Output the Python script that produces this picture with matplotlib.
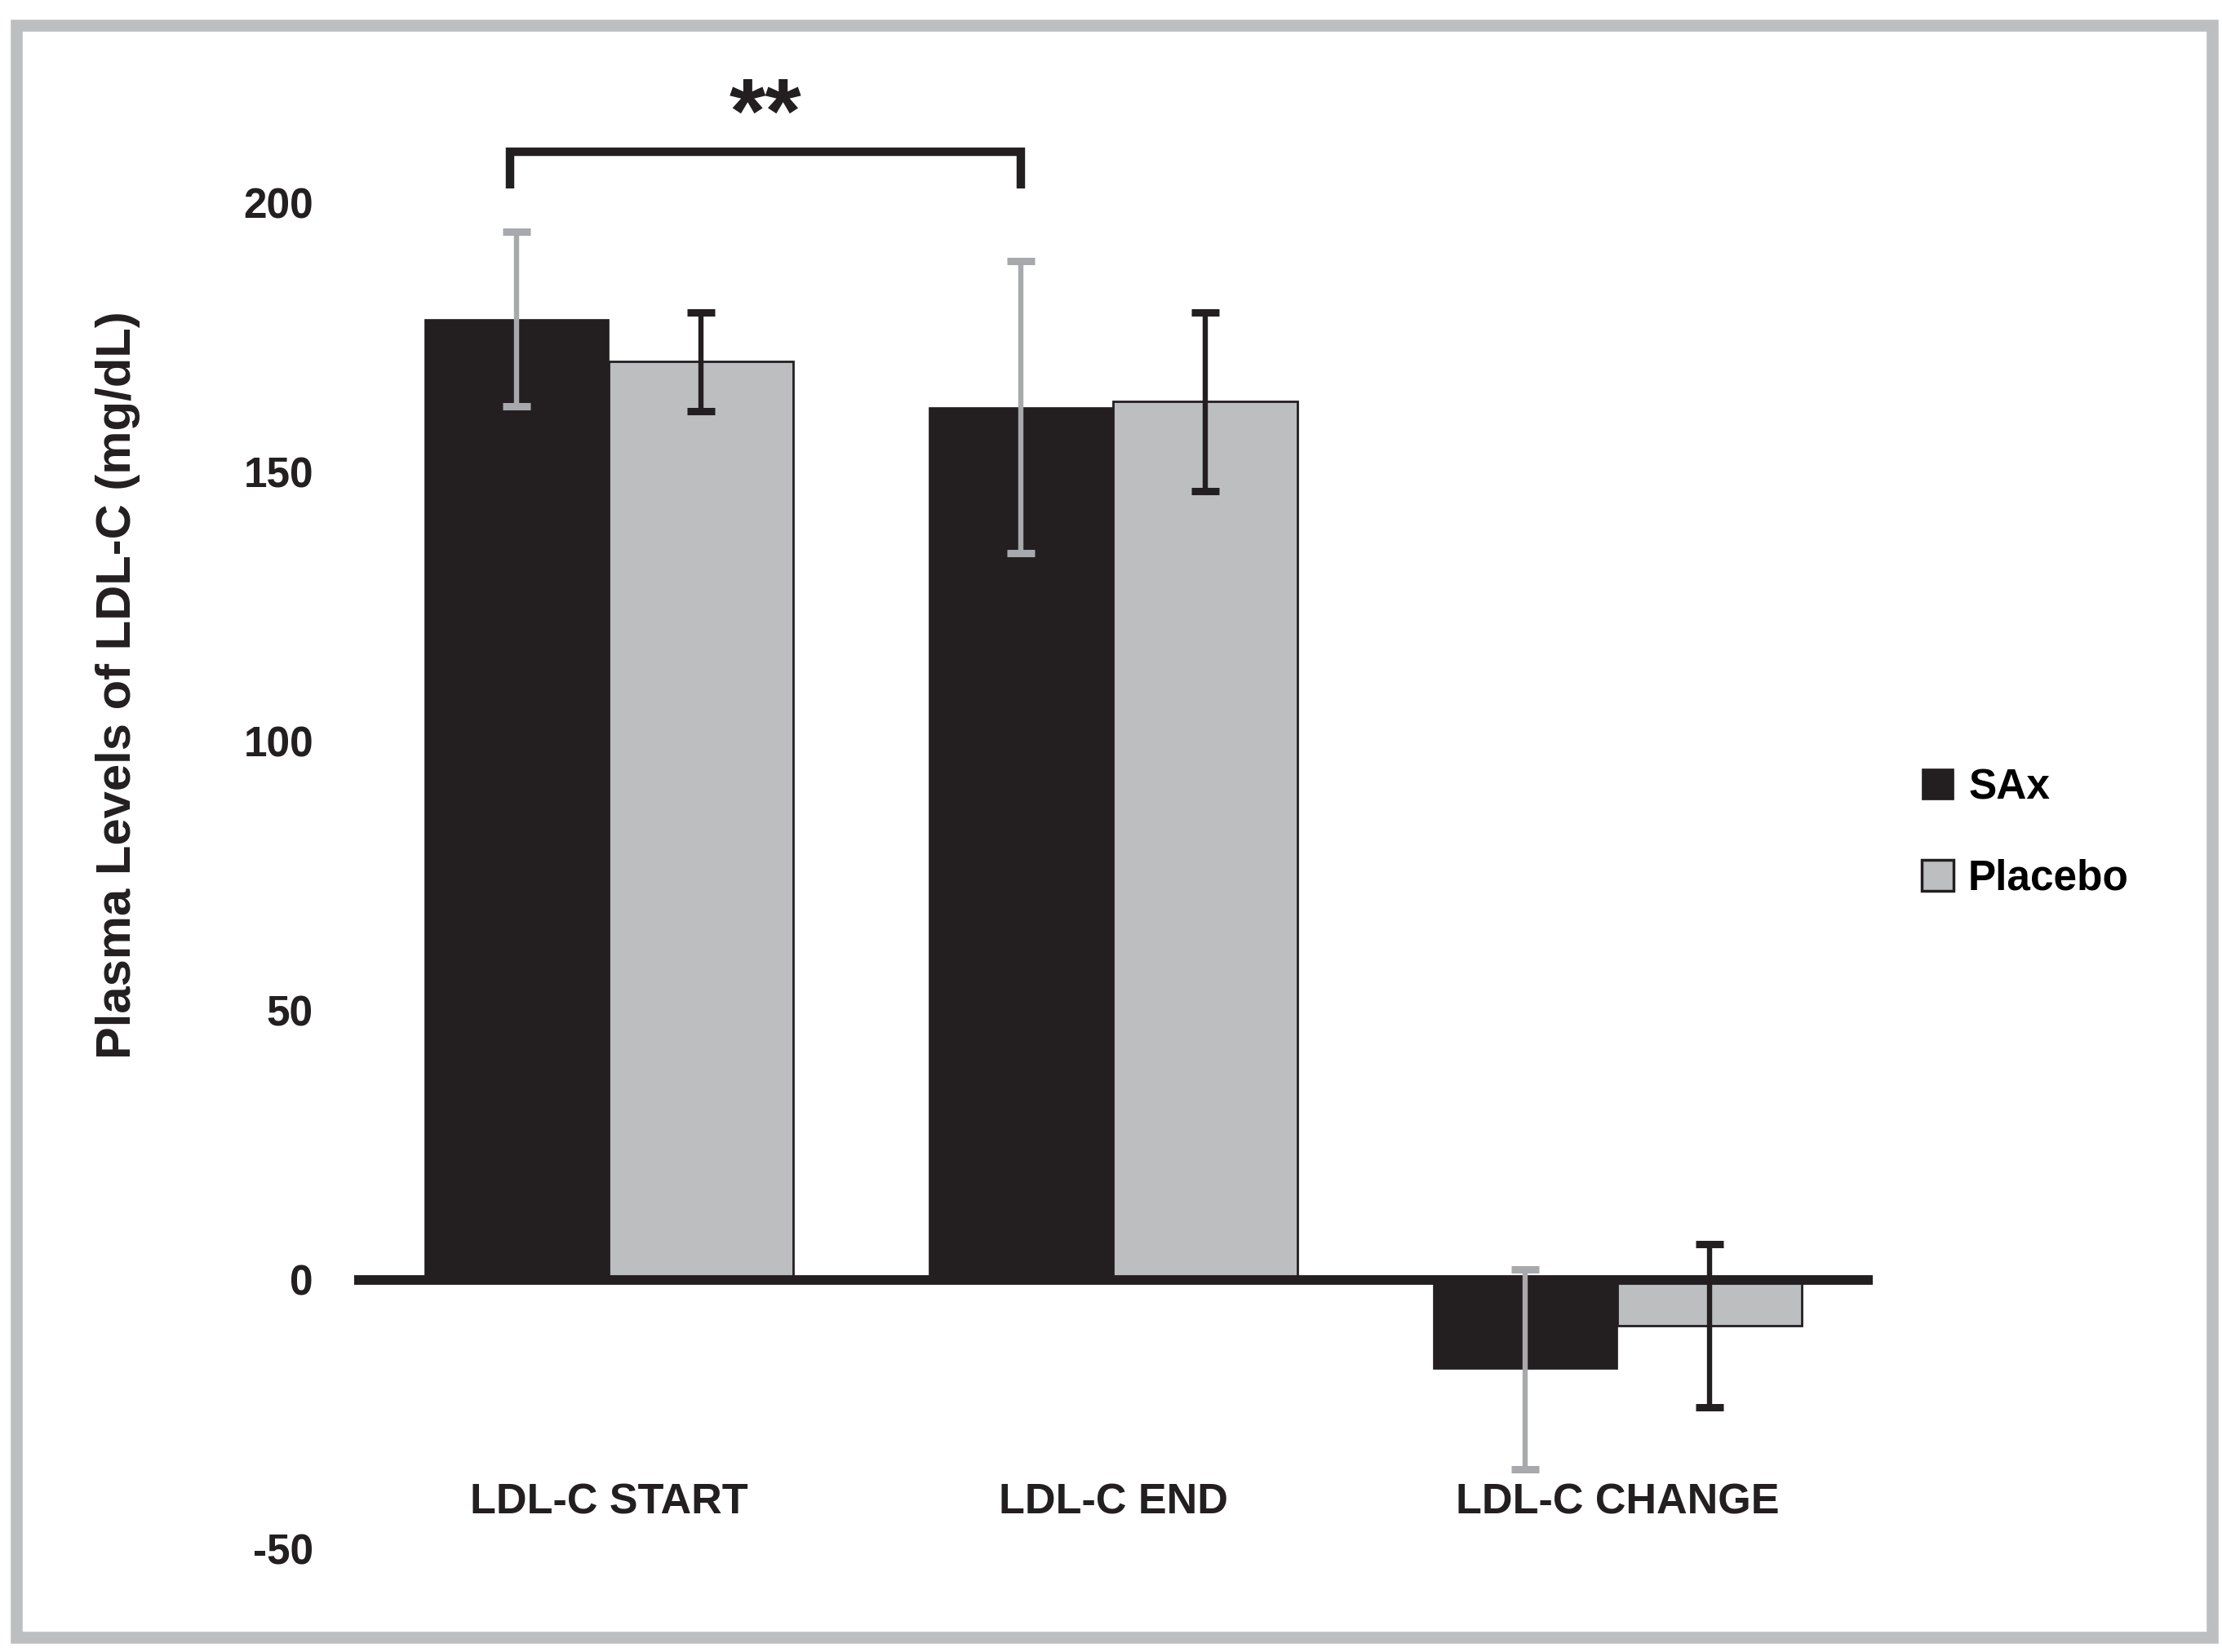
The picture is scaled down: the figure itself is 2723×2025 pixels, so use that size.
import matplotlib
matplotlib.use("Agg")
import matplotlib.pyplot as plt
from matplotlib.patches import Rectangle, Patch
import numpy as np

plt.rcParams['font.family'] = ['Liberation Sans', 'DejaVu Sans']
plt.rcParams['font.weight'] = 'bold'

categories = ["LDL-C START", "LDL-C END", "LDL-C CHANGE"]
series_names = ["SAx", "Placebo"]
sax_values = [178.3, 162.0, -16.6]
sax_errors = [16.2, 27.1, 18.6]
placebo_values = [170.4, 163.0, -8.5]
placebo_errors = [9.1, 16.6, 15.2]
y_ticks = [-50, 0, 50, 100, 150, 200]
y_label = "Plasma Levels of LDL-C (mg/dL)"
significance = "**"

DARK = "#231f20"
LIGHT = "#bcbec0"
ERR_GRAY = "#a7a9ac"
FRAME = "#bcbec0"

W, H = 2723, 2025
fig = plt.figure(figsize=(W / 100, H / 100), dpi=100)
fig.patch.set_facecolor("white")

# outer grey frame
fig.patches.append(Rectangle((20 / W, 1 - 2007 / H), (2711 - 20) / W, (2007 - 31) / H,
                             transform=fig.transFigure, fill=False,
                             edgecolor=FRAME, linewidth=10.5, zorder=0))

ax = fig.add_axes([434 / W, 1 - 1899 / H, (2295 - 434) / W, (1899 - 248) / H])
ax.set_facecolor("none")

x = np.arange(len(categories))
w = 0.3657
sax_x = x - w / 2
pla_x = x + w / 2

ax.bar(sax_x, sax_values, width=w, color=DARK, edgecolor=DARK, linewidth=0.5, zorder=3)
ax.bar(pla_x, placebo_values, width=w, color=LIGHT, edgecolor=DARK, linewidth=2.0, zorder=3)

ax.axhline(0, color=DARK, linewidth=8.5, zorder=4)

ax.errorbar(sax_x, sax_values, yerr=sax_errors, fmt="none", ecolor=ERR_GRAY,
            elinewidth=4.6, capsize=12.2, capthick=6.5, zorder=5)
ax.errorbar(pla_x, placebo_values, yerr=placebo_errors, fmt="none", ecolor=DARK,
            elinewidth=4.6, capsize=12.2, capthick=6.5, zorder=5)

ax.set_xlim(-0.505, 2.506)
ax.set_ylim(-50, 200)
ax.set_yticks(y_ticks)
ax.set_yticklabels([str(t) for t in y_ticks], fontsize=37, fontweight="bold", color=DARK)
ax.tick_params(axis="y", length=0, pad=36)
ax.set_xticks([])
for s in ax.spines.values():
    s.set_visible(False)

for xi, lab in zip(x, categories):
    ax.text(xi, -41.4, lab, ha="center", va="center", fontsize=37.5,
            fontweight="bold", color=DARK)

# significance bracket between SAx start and SAx end
bx0, bx1 = sax_x[0] - 0.013, sax_x[1]
ytop, ybot = 209.4, 202.6
ax.plot([bx0, bx0, bx1, bx1], [ybot, ytop, ytop, ybot], color=DARK,
        linewidth=7.5, solid_joinstyle="miter", solid_capstyle="butt",
        clip_on=False, zorder=6)
ax.text((bx0 + bx1) / 2, 215.5, significance, ha="center", va="center",
        fontsize=82, fontweight="bold", color=DARK, clip_on=False)

fig.text(145 / W, 1 - 840 / H, y_label, rotation=90, ha="center", va="center",
         fontsize=43, fontweight="bold", color=DARK)

handles = [Patch(facecolor=DARK, edgecolor=DARK, linewidth=0.5),
           Patch(facecolor=LIGHT, edgecolor=DARK, linewidth=2.5)]
fig.legend(handles, series_names, loc="upper left",
           bbox_to_anchor=(2355 / W, 1 - 941 / H), bbox_transform=fig.transFigure,
           frameon=False, handlelength=0.76, handleheight=0.76,
           handletextpad=0.35, labelspacing=1.22, borderpad=0, borderaxespad=0,
           prop={"weight": "bold", "size": 37})

fig.savefig("out.png", dpi=100, facecolor="white")
